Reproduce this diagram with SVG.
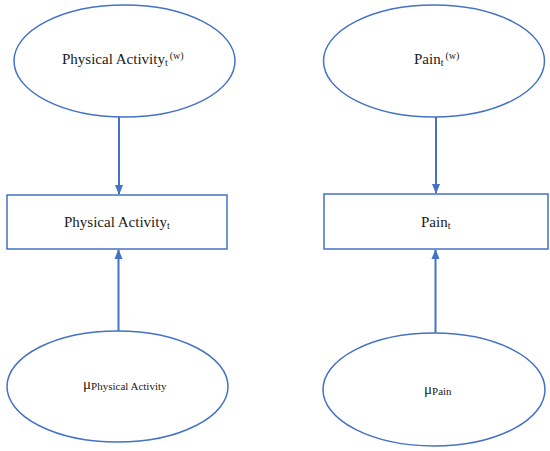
<svg xmlns="http://www.w3.org/2000/svg" width="550" height="451" viewBox="0 0 550 451">
<style>
.n{fill:#fff;stroke:#4472C4;stroke-width:1.5}
.c{stroke:#4472C4;stroke-width:2;fill:none}
.t{font-family:'Liberation Serif','Times New Roman','DejaVu Serif',serif;fill:#1a1a1a;font-size:15px}
.s{font-size:10px}
.m{font-size:11px}
</style>
<defs>
<marker id="ah" markerWidth="10" markerHeight="10" refX="9" refY="5" orient="auto" markerUnits="userSpaceOnUse">
<path d="M0,1 L10,5 L0,9 Z" fill="#4472C4"/>
</marker>
</defs>
<g id="connectors">
<line class="c" x1="119" y1="117" x2="119" y2="194" marker-end="url(#ah)"/>
<line class="c" x1="118.5" y1="331" x2="118.5" y2="250" marker-end="url(#ah)"/>
<line class="c" x1="436" y1="117" x2="436" y2="193" marker-end="url(#ah)"/>
<line class="c" x1="435.5" y1="333" x2="435.5" y2="250" marker-end="url(#ah)"/>
</g>
<g id="pa_w">
<ellipse class="n" cx="124.5" cy="61" rx="110.5" ry="56"/>
<text class="t" font-family="Liberation Serif, serif" x="62" y="64">Physical Activity<tspan class="s" dy="2">t</tspan><tspan class="s" dx="2" dy="-7">(w)</tspan></text>
</g>
<g id="pain_w">
<ellipse class="n" cx="434" cy="61" rx="110.5" ry="56"/>
<text class="t" font-family="Liberation Serif, serif" x="414" y="64">Pain<tspan class="s" dy="2">t</tspan><tspan class="s" dx="2" dy="-7">(w)</tspan></text>
</g>
<g id="pa_t">
<rect class="n" x="7" y="195" width="220" height="54"/>
<text class="t" font-family="Liberation Serif, serif" x="64" y="227">Physical Activity<tspan class="s" dy="2">t</tspan></text>
</g>
<g id="pain_t">
<rect class="n" x="324" y="194" width="224" height="55"/>
<text class="t" font-family="Liberation Serif, serif" x="421" y="227">Pain<tspan class="s" dy="2">t</tspan></text>
</g>
<g id="mu_pa">
<ellipse class="n" cx="117.5" cy="386.5" rx="110.5" ry="55.5"/>
<text class="t" font-family="Liberation Serif, serif" x="83" y="389">μ<tspan class="m" dy="1">Physical Activity</tspan></text>
</g>
<g id="mu_pain">
<ellipse class="n" cx="434" cy="389.5" rx="111" ry="56.5"/>
<text class="t" font-family="Liberation Serif, serif" x="424" y="394">μ<tspan class="m" dy="1">Pain</tspan></text>
</g>
</svg>
